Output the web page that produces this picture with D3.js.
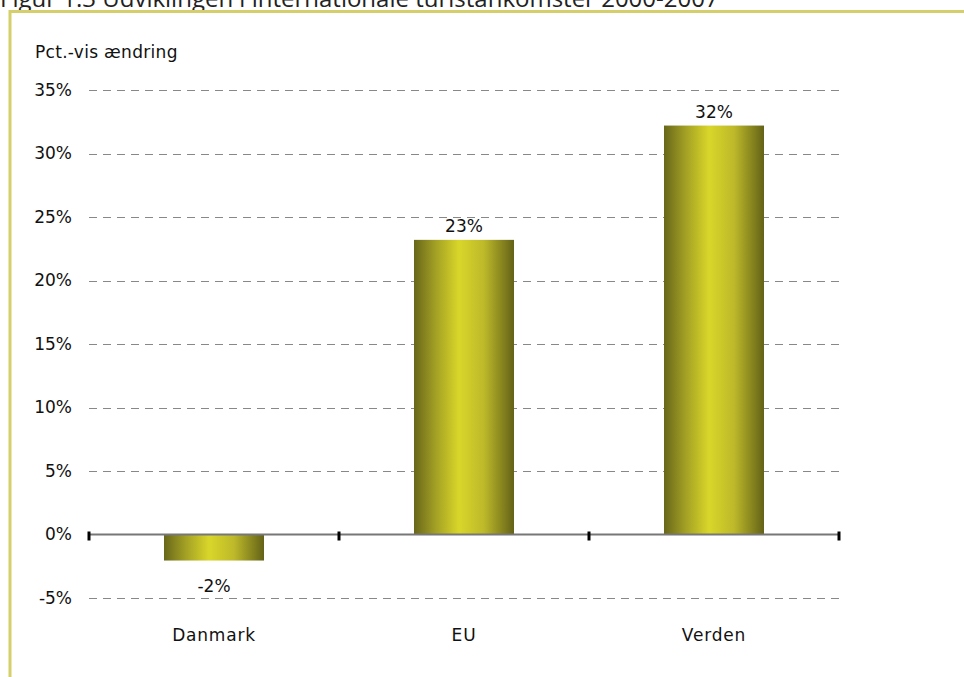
<!DOCTYPE html>
<html>
<head>
<meta charset="utf-8">
<script src="https://cdn.jsdelivr.net/npm/d3@7"></script>
<style>
  body { margin: 0; background: #fff; }
  svg { display: block; font-family: "DejaVu Sans", sans-serif; }
</style>
</head>
<body>
<svg width="964" height="677"></svg>
<script>
// data
const categories = ['Danmark', 'EU', 'Verden'];
const changes = [-2.05, 23.2, 32.2];
const valueLabels = ['-2%', '23%', '32%'];
const yTicks = [-5, 0, 5, 10, 15, 20, 25, 30, 35];

const svg = d3.select('svg'),
    width = +svg.attr('width'),
    height = +svg.attr('height');

const margin = {left: 89, right: 125, top: 90, bottom: 79};

const x = d3.scaleBand()
    .domain(categories)
    .range([margin.left, width - margin.right])
    .paddingInner(0.6)
    .paddingOuter(0.3);

const y = d3.scaleLinear()
    .domain([-5, 35])
    .range([height - margin.bottom, margin.top]);

// gradient for the bars
const grad = svg.append('defs').append('linearGradient')
    .attr('id', 'barGrad')
    .attr('x1', '0%').attr('x2', '100%')
    .attr('y1', '0%').attr('y2', '0%');
grad.append('stop').attr('offset', '0%').attr('stop-color', '#68671a');
grad.append('stop').attr('offset', '22%').attr('stop-color', '#a4a125');
grad.append('stop').attr('offset', '45%').attr('stop-color', '#d9d62a');
grad.append('stop').attr('offset', '70%').attr('stop-color', '#bdb92a');
grad.append('stop').attr('offset', '100%').attr('stop-color', '#646218');

// title, mostly cut off at the top (as in the source figure)
svg.append('text')
    .attr('x', 0)
    .attr('y', 7)
    .attr('font-family', '"Open Sans", sans-serif')
    .attr('font-size', 24)
    .attr('fill', '#222')
    .text('Figur 1.3 Udviklingen i internationale turistankomster 2000-2007');

// frame lines
svg.append('path')
    .attr('d', `M${10},${height} V${11.5} H${width}`)
    .attr('fill', 'none')
    .attr('stroke', '#d4cf6a')
    .attr('stroke-width', 3);

svg.append('text')
    .attr('x', 35)
    .attr('y', 58)
    .attr('font-size', 17)
    .attr('letter-spacing', 0.3)
    .attr('fill', '#111')
    .text('Pct.-vis ændring');

// y axis labels + gridlines
const x0 = x.range()[0], x1 = x.range()[1];

svg.append('g')
    .selectAll('line')
    .data(yTicks.filter(d => d !== 0))
    .enter().append('line')
      .attr('x1', x0).attr('x2', x1)
      .attr('y1', d => Math.round(y(d)) + 0.5)
      .attr('y2', d => Math.round(y(d)) + 0.5)
      .attr('stroke', '#888')
      .attr('stroke-dasharray', '8,6');

svg.append('g')
    .selectAll('text')
    .data(yTicks)
    .enter().append('text')
      .attr('x', 72)
      .attr('y', d => y(d))
      .attr('dy', '0.35em')
      .attr('text-anchor', 'end')
      .attr('font-size', 17)
      .attr('fill', '#111')
      .text(d => d + '%');

// bars
svg.append('g')
    .selectAll('rect')
    .data(changes)
    .enter().append('rect')
      .attr('x', (d, i) => x(categories[i]))
      .attr('width', x.bandwidth())
      .attr('y', d => y(Math.max(0, d)))
      .attr('height', d => Math.abs(y(d) - y(0)))
      .attr('fill', 'url(#barGrad)');

// zero line with tick marks
svg.append('line')
    .attr('x1', x0).attr('x2', x1)
    .attr('y1', y(0)).attr('y2', y(0))
    .attr('stroke', '#777')
    .attr('stroke-width', 2);

const tickPos = categories.map(c => x(c) - x.step() * x.paddingInner() / 2);
tickPos.push(x1);
svg.append('g')
    .selectAll('line')
    .data(tickPos)
    .enter().append('line')
      .attr('x1', d => d).attr('x2', d => d)
      .attr('y1', y(0) - 3).attr('y2', y(0) + 6)
      .attr('stroke', '#000')
      .attr('stroke-width', 3);

// value labels
svg.append('g')
    .selectAll('text')
    .data(changes)
    .enter().append('text')
      .attr('x', (d, i) => x(categories[i]) + x.bandwidth() / 2)
      .attr('y', d => d >= 0 ? y(d) - 14 : y(d) + 26)
      .attr('dy', '0.35em')
      .attr('text-anchor', 'middle')
      .attr('font-size', 17)
      .attr('fill', '#111')
      .text((d, i) => valueLabels[i]);

// category labels
svg.append('g')
    .selectAll('text')
    .data(categories)
    .enter().append('text')
      .attr('x', d => x(d) + x.bandwidth() / 2)
      .attr('y', 635)
      .attr('dy', '0.35em')
      .attr('text-anchor', 'middle')
      .attr('font-size', 17)
      .attr('letter-spacing', 0.8)
      .attr('fill', '#111')
      .text(d => d);
</script>
</body>
</html>
